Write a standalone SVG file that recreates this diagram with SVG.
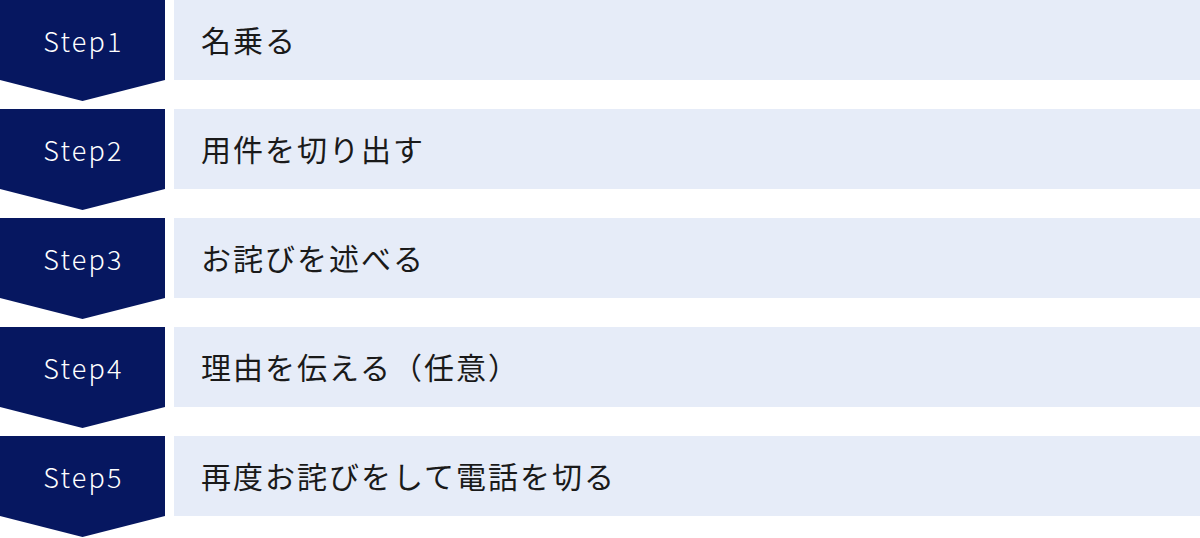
<svg xmlns="http://www.w3.org/2000/svg" width="1200" height="538" viewBox="0 0 1200 538">
<style>
.chev{fill:#061760}
.bar{fill:#E6ECF8}
.step{font-family:"Noto Sans CJK JP","Noto Sans",sans-serif;font-size:27px;font-weight:300;fill:#ffffff;text-anchor:middle;letter-spacing:2.2px}
.lbl{font-family:"Noto Sans CJK JP","Noto Sans",sans-serif;font-size:30px;fill:#1a1a1a;letter-spacing:2px}
</style>
<defs>
<path id="chevShape" d="M0,0H165V80L82.5,101L0,80Z"/>
</defs>
<g id="connectors"></g>
<g id="step1" transform="translate(0,0)">
<use href="#chevShape" class="chev"/>
<rect class="bar" x="174" y="0" width="1026" height="80"/>
<text class="step" x="83.5" y="52">Step1</text>
<text class="lbl" x="201" y="52">名乗る</text>
</g>
<g id="step2" transform="translate(0,109)">
<use href="#chevShape" class="chev"/>
<rect class="bar" x="174" y="0" width="1026" height="80"/>
<text class="step" x="83.5" y="52">Step2</text>
<text class="lbl" x="201" y="52">用件を切り出す</text>
</g>
<g id="step3" transform="translate(0,218)">
<use href="#chevShape" class="chev"/>
<rect class="bar" x="174" y="0" width="1026" height="80"/>
<text class="step" x="83.5" y="52">Step3</text>
<text class="lbl" x="201" y="52">お詫びを述べる</text>
</g>
<g id="step4" transform="translate(0,327)">
<use href="#chevShape" class="chev"/>
<rect class="bar" x="174" y="0" width="1026" height="80"/>
<text class="step" x="83.5" y="52">Step4</text>
<text class="lbl" x="201" y="52">理由を伝える（任意）</text>
</g>
<g id="step5" transform="translate(0,436)">
<use href="#chevShape" class="chev"/>
<rect class="bar" x="174" y="0" width="1026" height="80"/>
<text class="step" x="83.5" y="52">Step5</text>
<text class="lbl" x="201" y="52">再度お詫びをして電話を切る</text>
</g>
</svg>
